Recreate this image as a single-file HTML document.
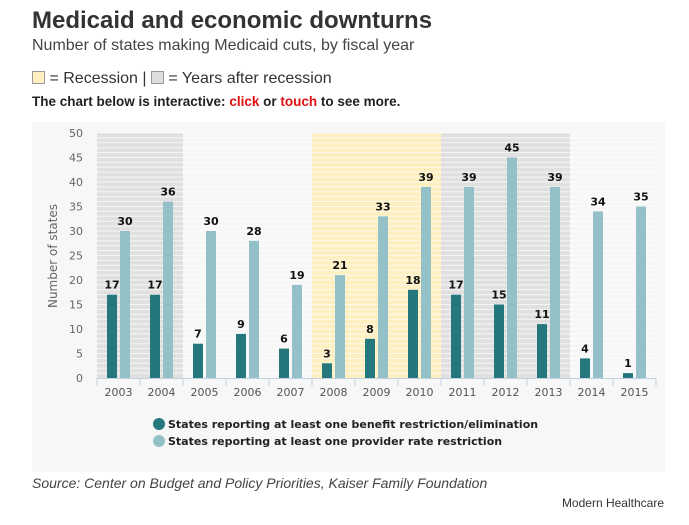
<!DOCTYPE html>
<html><head><meta charset="utf-8">
<style>
body{margin:0;width:689px;height:525px;background:#fff;font-family:"Liberation Sans",Arial,sans-serif;position:relative;overflow:hidden}
.abs{position:absolute;white-space:nowrap}
</style></head><body>
<div class="abs" style="left:32px;top:7px;font-size:24px;font-weight:bold;color:#333">Medicaid and economic downturns</div>
<div class="abs" style="left:32px;top:37px;font-size:16px;color:#444">Number of states making Medicaid cuts, by fiscal year</div>
<div class="abs" style="left:32px;top:70px;font-size:16px;color:#333"><span style="display:inline-block;width:11px;height:11px;background:#fdefc0;border:1px solid #999;vertical-align:-1px"></span> = Recession | <span style="display:inline-block;width:11px;height:11px;background:#ddd;border:1px solid #999;vertical-align:-1px"></span> = Years after recession</div>
<div class="abs" style="left:32px;top:94px;font-size:13.5px;font-weight:bold;color:#222">The chart below is interactive: <span style="color:#e01010">click</span> or <span style="color:#e01010">touch</span> to see more.</div>
<svg id="chart" class="abs" style="left:0;top:0" width="689" height="525"></svg>
<div class="abs" style="left:32px;top:475px;font-size:14px;font-style:italic;color:#444">Source: Center on Budget and Policy Priorities, Kaiser Family Foundation</div>
<div class="abs" style="right:25px;top:496px;font-size:12px;color:#333">Modern Healthcare</div>
<script>
const years=["2003","2004","2005","2006","2007","2008","2009","2010","2011","2012","2013","2014","2015"];
const benefit=[17,17,7,9,6,3,8,18,17,15,11,4,1];
const provider=[30,36,30,28,19,21,33,39,39,45,39,34,35];
const bandType=["after","after","none","none","none","rec","rec","rec","after","after","after","none","none"];
const yTicks=[0,5,10,15,20,25,30,35,40,45,50];
const NS="http://www.w3.org/2000/svg";
const svg=document.getElementById('chart');
const x0=97,x1=656,yTop=133,yBot=378,yMax=50;
const bw=(x1-x0)/years.length;
const y=v=>yBot-(v/yMax)*(yBot-yTop);
const xc=i=>x0+bw*(i+0.5);
function mk(t,a,p){const e=document.createElementNS(NS,t);for(const k in a)e.setAttribute(k,a[k]);(p||svg).appendChild(e);return e;}
let bg=mk('rect',{x:32,y:122,width:633,height:350,fill:'#f7f7f7'});


years.forEach((yr,i)=>{
  const c=bandType[i]==='after'?'#e0e0e0':bandType[i]==='rec'?'#fdefc0':'#f7f7f7';
  let r=mk('rect',{x:x0+bw*i,y:yTop,width:bw+0.5,height:yBot-yTop,fill:c});
  
  
});
for(let v=1;v<=yMax;v++){
  let l=mk('line',{x1:x0,x2:x1,y1:y(v),y2:y(v),stroke:'#fff','stroke-opacity':0.7,'stroke-width':1});
  
  
}
yTicks.forEach(v=>{
  let t=mk('text',{x:83,y:y(v)+4,'text-anchor':'end','font-size':11,fill:'#666','font-family':'DejaVu Sans,sans-serif'});
  t.textContent=v;
  
  
});
let yt=mk('text',{x:57,y:256,transform:'rotate(-90 57 256)','text-anchor':'middle','font-size':12,fill:'#666','font-family':'DejaVu Sans,sans-serif'});
yt.textContent='Number of states';


let ax=mk('line',{x1:x0,x2:x1,y1:yBot+0.5,y2:yBot+0.5,stroke:'#c0d0e0'});


for(let i=0;i<=years.length;i++){
  let tk=mk('line',{x1:x0+bw*i,x2:x0+bw*i,y1:yBot,y2:yBot+8,stroke:'#c0d0e0'});
  
  
}
function label(x,v){
  let t=mk('text',{x:x,y:y(v)-6,'text-anchor':'middle','font-size':11,'font-weight':'bold',fill:'#111','font-family':'DejaVu Sans,sans-serif'});
  t.textContent=v;
  
  
}
years.forEach((yr,i)=>{
  const c=xc(i);
  let b1=mk('rect',{x:c-11.5,y:y(benefit[i]),width:10,height:yBot-y(benefit[i]),fill:'#23777d'});
  
  
  let b2=mk('rect',{x:c+1.5,y:y(provider[i]),width:10,height:yBot-y(provider[i]),fill:'#94c1c8'});
  
  
  label(c-6.5,benefit[i]);label(c+6.5,provider[i]);
  let xl=mk('text',{x:c,y:396,'text-anchor':'middle','font-size':11,fill:'#555','font-family':'DejaVu Sans,sans-serif'});
  xl.textContent=yr;
  
  
});
const legend=[["States reporting at least one benefit restriction/elimination","#23777d"],["States reporting at least one provider rate restriction","#94c1c8"]];
legend.forEach((l,i)=>{
  const g=mk('g',{});
  
  
  mk('circle',{cx:159,cy:424+i*17,r:6,fill:l[1]},g);
  const t=mk('text',{x:168,y:428+i*17,'font-size':11,'font-weight':'bold',fill:'#222','font-family':'DejaVu Sans,sans-serif'},g);
  t.textContent=l[0];
});
</script>
</body></html>
